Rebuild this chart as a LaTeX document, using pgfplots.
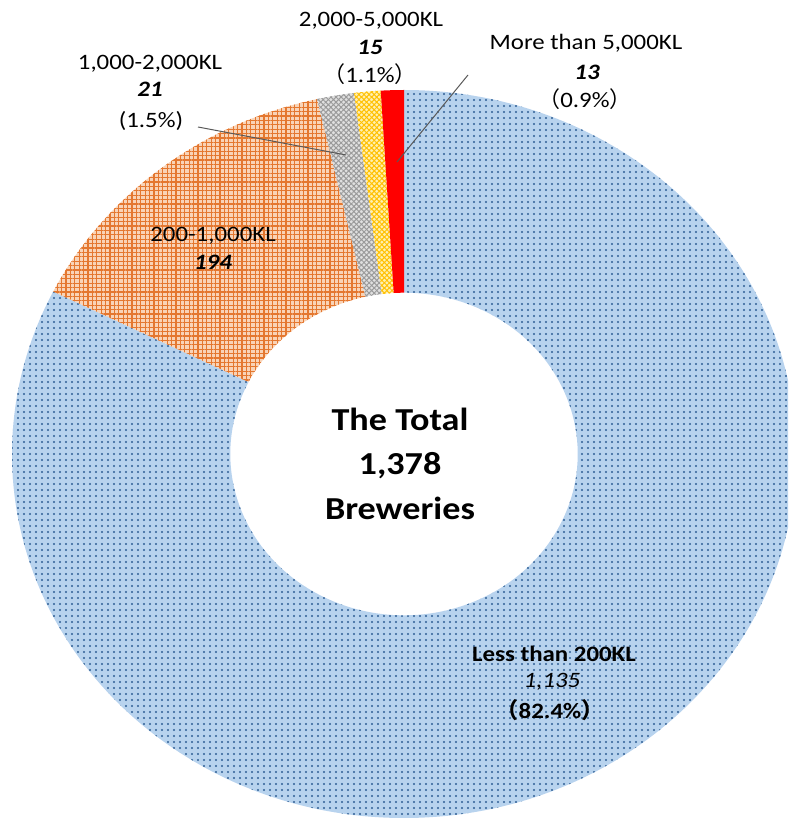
\documentclass[border=0pt]{standalone}
\usepackage{fontspec}
\setmainfont{Carlito}[FakeStretch=1.13]
\newfontfamily\cjk{Noto Sans CJK JP}
\usepackage{pgfplots}
\pgfplotsset{compat=1.18}
\usepackage{pgfplotstable}
\usetikzlibrary{patterns.meta}

\definecolor{blueBase}{HTML}{B8D3EE}
\definecolor{blueDot}{HTML}{2F5F95}
\definecolor{orBase}{HTML}{F9D3B6}
\definecolor{orLine}{HTML}{E4772F}
\definecolor{grBase}{HTML}{E0E0E0}
\definecolor{grLine}{HTML}{9A9A9A}
\definecolor{yeBase}{HTML}{FFF0B0}
\definecolor{yeLine}{HTML}{FFC000}
\definecolor{leader}{HTML}{595959}

\tikzset{
  sl0/.style={fill=blueBase, postaction={pattern={Dots[distance=3pt,radius=0.6pt]}, pattern color=blueDot}},
  sl1/.style={fill=orBase, postaction={pattern={Lines[angle=0,distance=2.2pt,line width=0.62pt]}, pattern color=orLine},
              postaction={pattern={Lines[angle=90,distance=2.2pt,line width=0.62pt]}, pattern color=orLine}},
  sl2/.style={fill=grBase, postaction={pattern={Lines[angle=45,distance=1.8pt,line width=0.5pt]}, pattern color=grLine},
              postaction={pattern={Lines[angle=-45,distance=1.8pt,line width=0.5pt]}, pattern color=grLine}},
  sl3/.style={fill=yeBase, postaction={pattern={Lines[angle=45,distance=1.8pt,line width=0.5pt]}, pattern color=yeLine},
              postaction={pattern={Lines[angle=-45,distance=1.8pt,line width=0.5pt]}, pattern color=yeLine}},
  sl4/.style={fill=red},
  lab/.style={font=\fontsize{11}{13}\selectfont, anchor=base, inner sep=0pt},
  ctr/.style={font=\fontsize{16}{19}\selectfont\bfseries, anchor=base, inner sep=0pt},
}

\pgfplotstableread{
label value
small 1135
mid 194
k1 21
k2 15
k5 13
}\brewtable

\begin{document}
\begin{tikzpicture}
\begin{axis}[
  at={(0,0)}, anchor=south west,
  scale only axis, width=394pt, height=410pt,
  xmin=0, xmax=788, ymin=-820, ymax=0,
  hide axis, clip=true,
]
\pgfplotsextra{
  \gdef\cum{0}
  \foreach \i in {0,...,4}{
    \pgfplotstablegetelem{\i}{value}\of\brewtable
    \pgfmathsetmacro\a{90-\cum/1378*360}
    \pgfmathsetmacro\b{90-(\cum+\pgfplotsretval)/1378*360}
    \pgfmathsetmacro\c{\cum+\pgfplotsretval}
    \fill[sl\i] (axis cs:{404+392*cos(\a)},{-454+364*sin(\a)})
       arc[start angle=\a, end angle=\b, x radius=196pt, y radius=182pt]
       -- (axis cs:{404+173.7*cos(\b)},{-454+161.3*sin(\b)})
       arc[start angle=\b, end angle=\a, x radius=86.85pt, y radius=80.65pt]
       -- cycle;
    \global\let\cum\c
  }
}
% leader lines
\draw[leader, line width=0.5pt] (axis cs:198,-127) -- (axis cs:346,-155);
\draw[leader, line width=0.5pt] (axis cs:468,-75) -- (axis cs:397,-162);
% labels
\node[lab] at (axis cs:371,-27) {2,000-5,000KL};
\node[lab] at (axis cs:370,-55) {\bfseries\itshape 15};
\node[lab] at (axis cs:370,-83) {{\cjk（}1.1\%{\cjk）}};
\node[lab] at (axis cs:150,-70) {1,000-2,000KL};
\node[lab] at (axis cs:150,-97) {\bfseries\itshape 21};
\node[lab] at (axis cs:151,-128) {(1.5\%)};
\node[lab] at (axis cs:586,-50) {More than 5,000KL};
\node[lab] at (axis cs:587,-80) {\bfseries\itshape 13};
\node[lab] at (axis cs:585,-108) {{\cjk（}0.9\%{\cjk）}};
\node[lab] at (axis cs:213,-242) {200-1,000KL};
\node[lab] at (axis cs:213,-270) {\bfseries\itshape 194};
\node[lab] at (axis cs:554,-662) {\bfseries Less than 200KL};
\node[lab] at (axis cs:552,-688) {\itshape 1,135};
\node[lab] at (axis cs:550,-719) {\bfseries{\cjk\bfseries（}82.4\%{\cjk\bfseries）}};
\node[ctr] at (axis cs:400,-431) {The Total};
\node[ctr] at (axis cs:400,-475) {1,378};
\node[ctr] at (axis cs:400,-520) {Breweries};
\end{axis}
\pgfresetboundingbox
\useasboundingbox (0,0) rectangle (394pt,410pt);
\end{tikzpicture}
\end{document}
